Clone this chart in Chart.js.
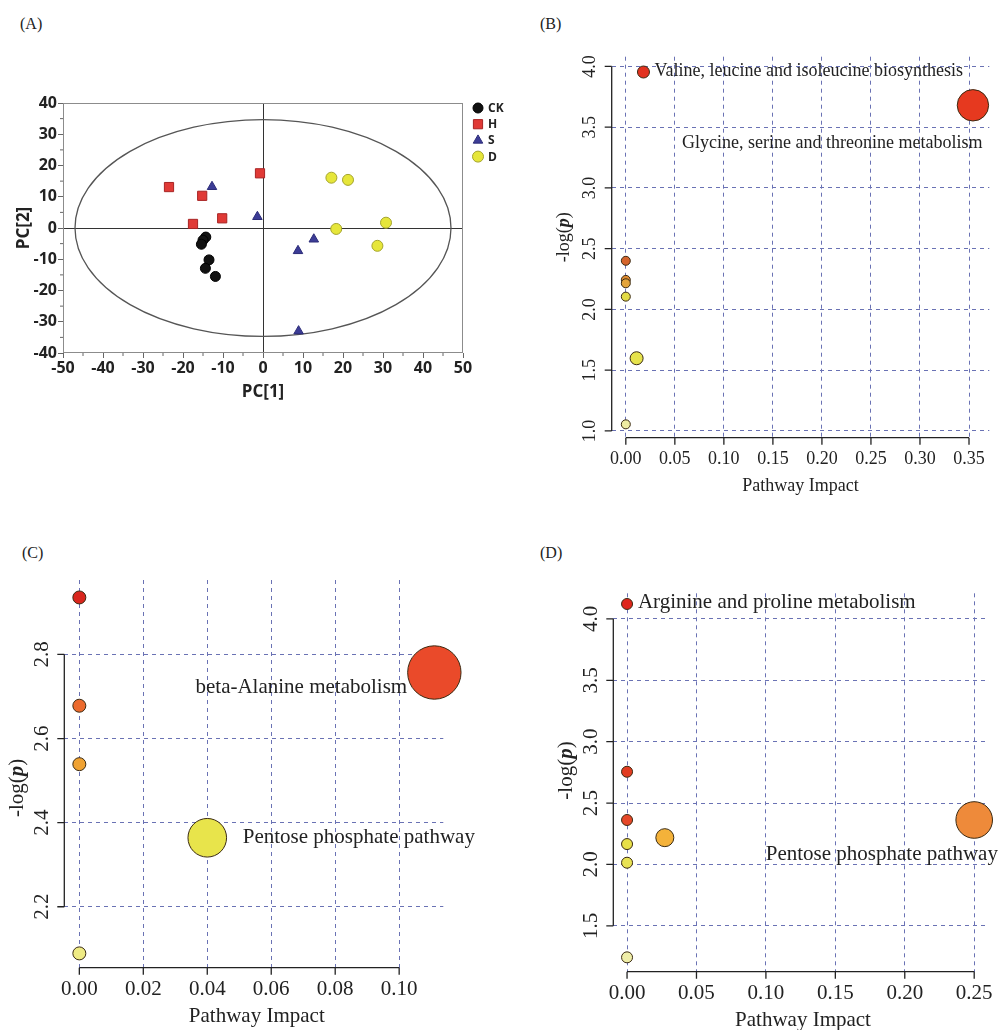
<!DOCTYPE html>
<html>
<head>
<meta charset="utf-8">
<script src="https://cdn.jsdelivr.net/npm/chart.js@4.4.0/dist/chart.umd.min.js"></script>
<style>
  body{margin:0;background:#fff;width:1006px;height:1030px;position:relative;overflow:hidden}
  canvas{position:absolute}
  .tag{position:absolute;font:16px "Liberation Serif",serif;color:#222}
</style>
</head>
<body>
<div class="tag" style="left:20px;top:15px">(A)</div>
<div class="tag" style="left:540px;top:15px">(B)</div>
<div class="tag" style="left:22px;top:544px">(C)</div>
<div class="tag" style="left:540px;top:544px">(D)</div>

<canvas id="pca" width="540" height="520" style="left:0;top:0"></canvas>
<canvas id="panelB" width="466" height="520" style="left:540px;top:0"></canvas>
<canvas id="panelC" width="540" height="510" style="left:0;top:520px"></canvas>
<canvas id="panelD" width="466" height="510" style="left:540px;top:520px"></canvas>

<script>
// ---- (A) PCA scores ----
const groupNames = ['CK', 'H', 'S', 'D'];
const ckX = [-14.3, -15.0, -15.4, -13.5, -14.4, -11.9];
const ckY = [-2.9, -3.9, -5.2, -10.2, -12.9, -15.5];
const hX = [-23.5, -15.2, -17.5, -10.2, -0.75];
const hY = [13.1, 10.3, 1.3, 3.1, 17.5];
const sX = [-12.75, -1.4, 8.75, 12.7, 8.9];
const sY = [13.2, 3.6, -7.3, -3.6, -33];
const dX = [17.1, 21.25, 18.3, 30.75, 28.6];
const dY = [16.1, 15.4, -0.3, 1.7, -5.7];
const pcaXTicks = [-50, -40, -30, -20, -10, 0, 10, 20, 30, 40, 50];
const pcaYTicks = [-40, -30, -20, -10, 0, 10, 20, 30, 40];
const ellipseRx = 47;   // Hotelling T2 ellipse half-axes (PC units)
const ellipseRy = 34.7;

// ---- (B) pathway analysis ----
const impactB = [0.018, 0.354, 0, 0, 0, 0, 0.011, 0];
const logpB = [3.954, 3.68, 2.40, 2.243, 2.215, 2.105, 1.598, 1.054];
const sizeB = [6, 15.7, 4.5, 4.5, 4.5, 4.5, 6.5, 4.5];
const xTicksB = [0, 0.05, 0.10, 0.15, 0.20, 0.25, 0.30, 0.35];
const yTicksB = [1.0, 1.5, 2.0, 2.5, 3.0, 3.5, 4.0];

// ---- (C) ----
const impactC = [0, 0.111, 0, 0, 0.04, 0];
const logpC = [2.9355, 2.757, 2.678, 2.539, 2.364, 2.089];
const sizeC = [6.5, 26.7, 6.5, 6.5, 19.3, 6.5];
const xTicksC = [0, 0.02, 0.04, 0.06, 0.08, 0.10];
const yTicksC = [2.2, 2.4, 2.6, 2.8];

// ---- (D) ----
const impactD = [0, 0, 0, 0.25, 0.0272, 0, 0, 0];
const logpD = [4.122, 2.755, 2.362, 2.362, 2.218, 2.166, 2.014, 1.243];
const sizeD = [5.5, 5.5, 5.5, 18.3, 9, 5.5, 5.5, 5.5];
const xTicksD = [0, 0.05, 0.10, 0.15, 0.20, 0.25];
const yTicksD = [1.5, 2.0, 2.5, 3.0, 3.5, 4.0];

// colours (heat scale by p value)
const colorsB = ['#e2321f', '#e6391f', '#d5652d', '#de8a30', '#e4a43a', '#e2db46', '#e6e34c', '#eeeca2'];
const colorsC = ['#d9261d', '#ea4a2a', '#ec6a2d', '#f0a232', '#e8e44b', '#efeb84'];
const colorsD = ['#df271c', '#e23c22', '#e6482a', '#ee8a3a', '#f4b23a', '#e8e048', '#e8e254', '#efeea8'];

const toPts = (xs, ys) => xs.map((x, i) => ({x: x, y: ys[i]}));
const setTicks = arr => scale => { scale.ticks = arr.map(v => ({value: v})); };

// ================= PCA =================
const pcaStyles = [
  {style: 'circle', r: 5, bg: '#111', bd: '#000'},
  {style: 'rect', r: 6.5, bg: '#e03a36', bd: '#a82424'},
  {style: 'triangle', r: 5.5, bg: '#3c3c96', bd: '#2c2c78'},
  {style: 'circle', r: 5.5, bg: '#e6e63a', bd: '#a4a42c'}
];

function drawSymbol(ctx, st, x, y) {
  ctx.fillStyle = st.bg; ctx.strokeStyle = st.bd; ctx.lineWidth = 1;
  ctx.beginPath();
  if (st.style === 'circle') ctx.arc(x, y, st.r, 0, Math.PI * 2);
  else if (st.style === 'rect') { const s = st.r * Math.SQRT1_2; ctx.rect(x - s, y - s, 2 * s, 2 * s); }
  else { ctx.moveTo(x, y - st.r); ctx.lineTo(x + st.r * 0.866, y + st.r * 0.5); ctx.lineTo(x - st.r * 0.866, y + st.r * 0.5); ctx.closePath(); }
  ctx.fill(); ctx.stroke();
}

const pcaDeco = {
  id: 'pcaDeco',
  beforeDatasetsDraw(chart) {
    const {ctx, chartArea: a, scales: {x, y}} = chart;
    ctx.save();
    // frame
    ctx.strokeStyle = '#8c8c8c'; ctx.lineWidth = 1;
    ctx.strokeRect(a.left + 0.5, a.top + 0.5, a.width - 1, a.height - 1);
    // minor ticks
    ctx.strokeStyle = '#666';
    ctx.beginPath();
    for (let v = -45; v < 50; v += 10) {
      const px = x.getPixelForValue(v);
      ctx.moveTo(px, a.bottom); ctx.lineTo(px, a.bottom + 3);
    }
    for (let v = -35; v < 40; v += 10) {
      const py = y.getPixelForValue(v);
      ctx.moveTo(a.left, py); ctx.lineTo(a.left - 3, py);
    }
    ctx.stroke();
    // confidence ellipse
    const cx = x.getPixelForValue(0), cy = y.getPixelForValue(0);
    ctx.strokeStyle = '#555'; ctx.lineWidth = 1.3;
    ctx.beginPath();
    ctx.ellipse(cx, cy, x.getPixelForValue(ellipseRx) - cx, cy - y.getPixelForValue(ellipseRy), 0, 0, Math.PI * 2);
    ctx.stroke();
    ctx.restore();
  },
  afterDraw(chart) {
    const {ctx, chartArea: a} = chart;
    ctx.save();
    ctx.fillStyle = '#222';
    ctx.font = 'bold 17px "Open Sans"';
    ctx.textAlign = 'center'; ctx.textBaseline = 'middle';
    ctx.fillText('PC[1]', (a.left + a.right) / 2, 392);
    ctx.translate(24, (a.top + a.bottom) / 2);
    ctx.rotate(-Math.PI / 2);
    ctx.fillText('PC[2]', 0, 0);
    ctx.restore();
    // legend
    ctx.save();
    ctx.font = 'bold 12px "Open Sans"';
    ctx.textBaseline = 'middle'; ctx.textAlign = 'left';
    groupNames.forEach((g, i) => {
      const yy = 108 + i * 16.2;
      drawSymbol(ctx, pcaStyles[i], 478, yy);
      ctx.fillStyle = '#222';
      ctx.fillText(g, 488, yy + 0.5);
    });
    ctx.restore();
  }
};

const pcaSets = [[ckX, ckY], [hX, hY], [sX, sY], [dX, dY]].map((p, i) => ({
  label: groupNames[i],
  data: toPts(p[0], p[1]),
  pointStyle: pcaStyles[i].style,
  pointRadius: pcaStyles[i].r,
  backgroundColor: pcaStyles[i].bg,
  borderColor: pcaStyles[i].bd,
  borderWidth: 1
}));

const pcaTickFont = {family: 'Open Sans', weight: 'bold', size: 16};
new Chart(document.getElementById('pca'), {
  type: 'scatter',
  data: {datasets: pcaSets},
  options: {
    responsive: false, animation: false, events: [],
    layout: {padding: {top: 103, right: 77, left: 0, bottom: 0}},
    plugins: {legend: {display: false}, tooltip: {enabled: false}},
    scales: {
      x: {
        min: -50, max: 50,
        afterBuildTicks: setTicks(pcaXTicks),
        afterFit: s => { s.height = 167; },
        border: {display: false},
        grid: {
          color: c => (c.tick && c.tick.value === 0) ? '#333' : 'rgba(0,0,0,0)',
          tickColor: '#666', tickLength: 5, lineWidth: 1
        },
        ticks: {font: pcaTickFont, color: '#222', padding: 1, maxRotation: 0}
      },
      y: {
        min: -40, max: 40,
        afterBuildTicks: setTicks(pcaYTicks),
        afterFit: s => { s.width = 63; },
        border: {display: false},
        grid: {
          color: c => (c.tick && c.tick.value === 0) ? '#333' : 'rgba(0,0,0,0)',
          tickColor: '#666', tickLength: 5, lineWidth: 1
        },
        ticks: {font: pcaTickFont, color: '#222', padding: 1}
      }
    }
  },
  plugins: [pcaDeco]
});

// ================= Pathway bubble panels =================
const rAxes = {
  id: 'rAxes',
  afterDraw(chart, args, o) {
    const {ctx, chartArea: a, scales: {x, y}} = chart;
    const fs = o.fontSize;
    ctx.save();
    ctx.strokeStyle = '#222'; ctx.fillStyle = '#222'; ctx.lineWidth = 1.3;
    const xt = x.ticks.map(t => t.value), yt = y.ticks.map(t => t.value);
    ctx.beginPath();
    // x axis line + ticks
    ctx.moveTo(x.getPixelForValue(xt[0]), a.bottom);
    ctx.lineTo(x.getPixelForValue(xt[xt.length - 1]), a.bottom);
    xt.forEach(v => { const p = x.getPixelForValue(v); ctx.moveTo(p, a.bottom); ctx.lineTo(p, a.bottom + 7); });
    // y axis line + ticks
    ctx.moveTo(a.left, y.getPixelForValue(yt[0]));
    ctx.lineTo(a.left, y.getPixelForValue(yt[yt.length - 1]));
    yt.forEach(v => { const p = y.getPixelForValue(v); ctx.moveTo(a.left, p); ctx.lineTo(a.left - 7, p); });
    ctx.stroke();

    ctx.font = fs + 'px "Liberation Serif"';
    ctx.textAlign = 'center'; ctx.textBaseline = 'middle';
    xt.forEach(v => ctx.fillText(v.toFixed(o.xDigits), x.getPixelForValue(v), a.bottom + 21.5));
    yt.forEach(v => {
      ctx.save();
      ctx.translate(a.left - 21.5, y.getPixelForValue(v));
      ctx.rotate(-Math.PI / 2);
      ctx.fillText(v.toFixed(1), 0, 0);
      ctx.restore();
    });
    // axis titles
    ctx.fillText('Pathway Impact', (a.left + a.right) / 2 + o.xTitleShift, a.bottom + 48.5);
    ctx.save();
    ctx.translate(a.left - 47, (a.top + a.bottom) / 2 + o.yTitleShift);
    ctx.rotate(-Math.PI / 2);
    const parts = [['-log(', fs + 'px "Liberation Serif"'], ['p', 'italic bold ' + fs + 'px "Liberation Serif"'], [')', fs + 'px "Liberation Serif"']];
    let total = 0;
    parts.forEach(p => { ctx.font = p[1]; total += ctx.measureText(p[0]).width; });
    let cx = -total / 2;
    ctx.textAlign = 'left';
    parts.forEach(p => { ctx.font = p[1]; ctx.fillText(p[0], cx, 0); cx += ctx.measureText(p[0]).width; });
    ctx.restore();

    // pathway name labels
    ctx.font = o.labelSize + 'px "Liberation Serif"';
    ctx.textBaseline = 'middle';
    o.labels.forEach(l => {
      ctx.textAlign = l.align;
      ctx.fillText(l.text, x.getPixelForValue(l.x), y.getPixelForValue(l.y));
    });
    ctx.restore();
  }
};

function bubblePanel(id, xs, ys, rs, colors, xTicks, yTicks, xRange, yRange, pad, opts) {
  const gridStyle = {color: '#6a72b4', lineWidth: 1, drawTicks: false};
  const borderStyle = {display: false, dash: [4, 4]};
  return new Chart(document.getElementById(id), {
    type: 'bubble',
    data: {
      datasets: [{
        data: xs.map((x, i) => ({x: x, y: ys[i], r: rs[i]})),
        backgroundColor: colors,
        borderColor: '#3a2a12',
        borderWidth: 1,
        clip: false
      }]
    },
    options: {
      responsive: false, animation: false, events: [],
      layout: {padding: {top: pad.top, right: pad.right, left: 0, bottom: 0}},
      plugins: {legend: {display: false}, tooltip: {enabled: false}, rAxes: opts},
      scales: {
        x: {
          min: xRange[0], max: xRange[1],
          afterBuildTicks: setTicks(xTicks),
          afterFit: s => { s.height = pad.bottom; },
          border: borderStyle, grid: gridStyle, ticks: {display: false}
        },
        y: {
          min: yRange[0], max: yRange[1],
          afterBuildTicks: setTicks(yTicks),
          afterFit: s => { s.width = pad.left; },
          border: borderStyle, grid: gridStyle, ticks: {display: false}
        }
      }
    },
    plugins: [rAxes]
  });
}

bubblePanel('panelB', impactB, logpB, sizeB, colorsB, xTicksB, yTicksB,
  [-0.0144, 0.3707], [0.944, 4.08], {left: 71.7, top: 56.7, right: 12.7, bottom: 82.3},
  {fontSize: 18, labelSize: 18, xDigits: 2, xTitleShift: 0, yTitleShift: -10,
   labels: [
     {text: 'Valine, leucine and isoleucine biosynthesis', x: 0.0293, y: 3.959, align: 'left'},
     {text: 'Glycine, serine and threonine metabolism', x: 0.0573, y: 3.369, align: 'left'}
   ]});

bubblePanel('panelC', impactC, logpC, sizeC, colorsC, xTicksC, yTicksC,
  [-0.0047, 0.1138], [2.055, 2.977], {left: 64.3, top: 60, right: 96.7, bottom: 62.3},
  {fontSize: 21, labelSize: 21, xDigits: 2, xTitleShift: 3, yTitleShift: 14,
   labels: [
     {text: 'beta-Alanine metabolism', x: 0.1025, y: 2.7215, align: 'right'},
     {text: 'Pentose phosphate pathway', x: 0.0511, y: 2.365, align: 'left'}
   ]});

bubblePanel('panelD', impactD, logpD, sizeD, colorsD, xTicksD, yTicksD,
  [-0.0099, 0.259], [1.126, 4.209], {left: 73.3, top: 73.3, right: 12.7, bottom: 58.3},
  {fontSize: 21, labelSize: 21, xDigits: 2, xTitleShift: 3, yTitleShift: -12,
   labels: [
     {text: 'Arginine and proline metabolism', x: 0.0078, y: 4.136, align: 'left'},
     {text: 'Pentose phosphate pathway', x: 0.0999, y: 2.085, align: 'left'}
   ]});
</script>
</body>
</html>
